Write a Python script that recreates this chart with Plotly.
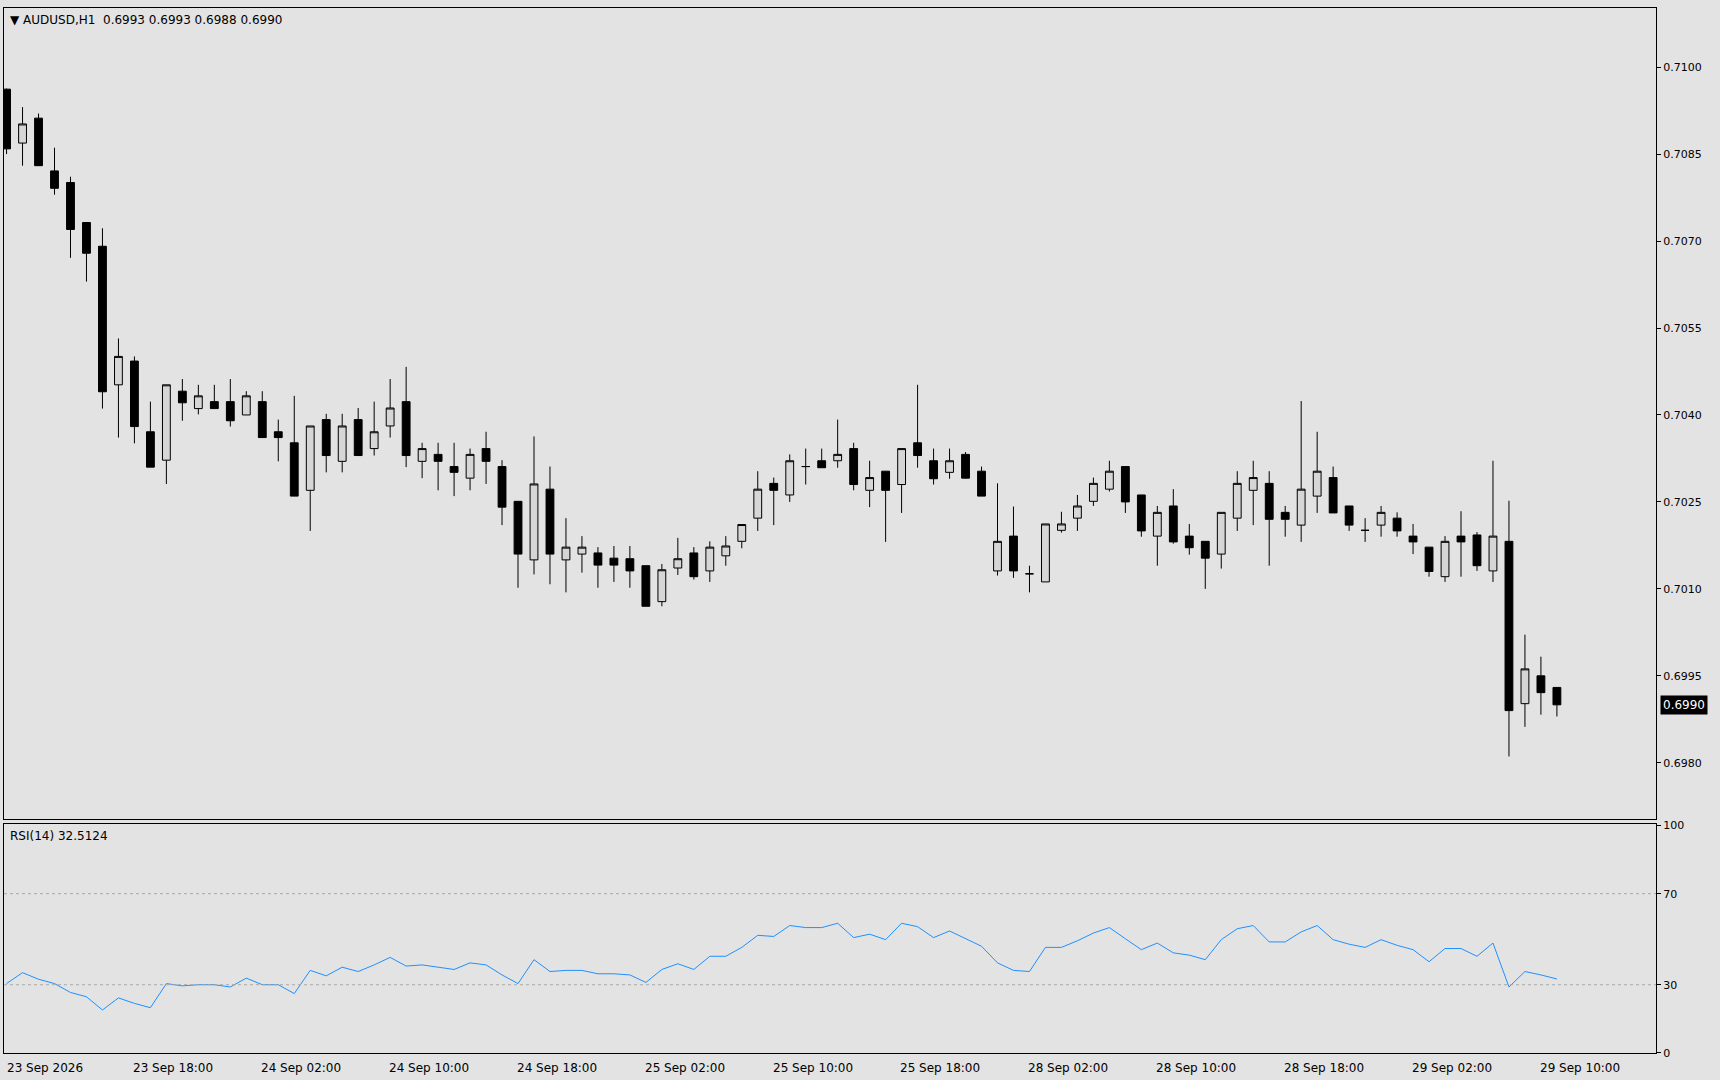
import plotly.graph_objects as go
from plotly.subplots import make_subplots

# AUDUSD H1 candles, 23 Sep 10:00 .. 29 Sep 11:00
opens = [0.70962, 0.70869, 0.70912, 0.70821, 0.70801, 0.70732, 0.70691, 0.70452, 0.70493, 0.70371,
         0.70322, 0.70441, 0.70411, 0.70423, 0.70423, 0.70400, 0.70423, 0.70371, 0.70352, 0.70270,
         0.70392, 0.70320, 0.70392, 0.70342, 0.70381, 0.70423, 0.70320, 0.70332, 0.70311, 0.70291,
         0.70342, 0.70311, 0.70251, 0.70150, 0.70272, 0.70150, 0.70160, 0.70162, 0.70153, 0.70152,
         0.70140, 0.70078, 0.70136, 0.70162, 0.70131, 0.70157, 0.70182, 0.70222, 0.70282, 0.70262,
         0.70311, 0.70321, 0.70321, 0.70342, 0.70270, 0.70303, 0.70280, 0.70352, 0.70321, 0.70301,
         0.70332, 0.70303, 0.70131, 0.70191, 0.70126, 0.70112, 0.70201, 0.70222, 0.70251, 0.70272,
         0.70311, 0.70262, 0.70191, 0.70243, 0.70191, 0.70182, 0.70160, 0.70222, 0.70270, 0.70282,
         0.70232, 0.70210, 0.70260, 0.70292, 0.70243, 0.70201, 0.70210, 0.70222, 0.70191, 0.70172,
         0.70121, 0.70191, 0.70193, 0.70131, 0.70182, 0.69902, 0.69950, 0.69930]
highs = [0.70963, 0.70931, 0.70920, 0.70861, 0.70811, 0.70732, 0.70722, 0.70532, 0.70501, 0.70423,
         0.70452, 0.70462, 0.70452, 0.70452, 0.70462, 0.70441, 0.70441, 0.70392, 0.70433, 0.70381,
         0.70402, 0.70402, 0.70412, 0.70423, 0.70462, 0.70483, 0.70352, 0.70352, 0.70352, 0.70342,
         0.70371, 0.70322, 0.70251, 0.70363, 0.70311, 0.70222, 0.70191, 0.70172, 0.70174, 0.70174,
         0.70140, 0.70143, 0.70188, 0.70172, 0.70182, 0.70191, 0.70211, 0.70303, 0.70292, 0.70332,
         0.70342, 0.70342, 0.70392, 0.70352, 0.70321, 0.70303, 0.70342, 0.70452, 0.70342, 0.70342,
         0.70336, 0.70311, 0.70282, 0.70242, 0.70140, 0.70212, 0.70233, 0.70262, 0.70292, 0.70321,
         0.70311, 0.70262, 0.70243, 0.70272, 0.70212, 0.70182, 0.70232, 0.70303, 0.70321, 0.70303,
         0.70243, 0.70424, 0.70371, 0.70311, 0.70243, 0.70222, 0.70243, 0.70232, 0.70212, 0.70172,
         0.70191, 0.70234, 0.70198, 0.70321, 0.70252, 0.70021, 0.69983, 0.69930]
lows = [0.70850, 0.70830, 0.70830, 0.70780, 0.70671, 0.70630, 0.70411, 0.70361, 0.70351, 0.70310,
        0.70281, 0.70390, 0.70401, 0.70411, 0.70380, 0.70400, 0.70361, 0.70320, 0.70260, 0.70200,
        0.70301, 0.70301, 0.70330, 0.70330, 0.70361, 0.70310, 0.70291, 0.70270, 0.70260, 0.70270,
        0.70281, 0.70210, 0.70102, 0.70125, 0.70108, 0.70094, 0.70128, 0.70102, 0.70112, 0.70102,
        0.70070, 0.70070, 0.70124, 0.70116, 0.70112, 0.70140, 0.70170, 0.70200, 0.70210, 0.70250,
        0.70280, 0.70309, 0.70309, 0.70270, 0.70241, 0.70181, 0.70231, 0.70309, 0.70280, 0.70290,
        0.70290, 0.70260, 0.70123, 0.70119, 0.70094, 0.70112, 0.70197, 0.70200, 0.70243, 0.70268,
        0.70231, 0.70190, 0.70140, 0.70178, 0.70159, 0.70100, 0.70135, 0.70200, 0.70210, 0.70140,
        0.70190, 0.70181, 0.70231, 0.70231, 0.70200, 0.70181, 0.70190, 0.70190, 0.70160, 0.70121,
        0.70112, 0.70121, 0.70131, 0.70112, 0.69811, 0.69862, 0.69883, 0.69880]
closes = [0.70859, 0.70902, 0.70830, 0.70791, 0.70720, 0.70679, 0.70440, 0.70501, 0.70380, 0.70310,
          0.70452, 0.70421, 0.70433, 0.70411, 0.70390, 0.70433, 0.70361, 0.70361, 0.70260, 0.70381,
          0.70330, 0.70381, 0.70330, 0.70371, 0.70412, 0.70330, 0.70342, 0.70320, 0.70301, 0.70332,
          0.70320, 0.70241, 0.70160, 0.70281, 0.70160, 0.70172, 0.70172, 0.70141, 0.70141, 0.70131,
          0.70070, 0.70133, 0.70152, 0.70121, 0.70172, 0.70174, 0.70211, 0.70272, 0.70270, 0.70321,
          0.70311, 0.70309, 0.70332, 0.70280, 0.70292, 0.70270, 0.70342, 0.70330, 0.70290, 0.70321,
          0.70291, 0.70260, 0.70182, 0.70131, 0.70126, 0.70212, 0.70212, 0.70243, 0.70282, 0.70303,
          0.70250, 0.70200, 0.70232, 0.70181, 0.70171, 0.70153, 0.70232, 0.70282, 0.70292, 0.70220,
          0.70220, 0.70272, 0.70303, 0.70231, 0.70210, 0.70201, 0.70232, 0.70200, 0.70181, 0.70130,
          0.70182, 0.70181, 0.70140, 0.70191, 0.69890, 0.69962, 0.69921, 0.69900]

rsi = [30.5, 35.3, 32.4, 30.5, 26.6, 24.7, 18.9, 24.2, 21.8, 19.9,
       30.5, 29.5, 30.0, 30.0, 29.0, 32.9, 30.0, 30.0, 26.1, 36.3,
       33.9, 37.7, 35.8, 38.7, 42.0, 38.2, 38.7, 37.7, 36.7, 39.6,
       38.7, 34.3, 30.5, 41.0, 35.8, 36.3, 36.3, 34.8, 34.8, 34.3,
       31.0, 36.7, 39.2, 36.7, 42.5, 42.5, 46.4, 51.7, 51.2, 56.0,
       55.1, 55.1, 57.0, 50.7, 52.2, 49.8, 57.0, 55.5, 50.7, 53.6,
       50.2, 46.9, 39.6, 36.3, 35.8, 46.4, 46.4, 49.3, 52.7, 55.1,
       50.2, 45.4, 48.3, 44.0, 43.0, 41.0, 49.8, 54.6, 56.0, 48.8,
       48.8, 53.2, 56.0, 49.8, 47.8, 46.4, 49.8, 47.3, 45.4, 40.1,
       45.9, 45.9, 42.5, 48.3, 29.0, 35.8, 34.3, 32.5124]

time_labels = ["23 Sep 2026", "23 Sep 18:00", "24 Sep 02:00", "24 Sep 10:00", "24 Sep 18:00",
               "25 Sep 02:00", "25 Sep 10:00", "25 Sep 18:00", "28 Sep 02:00", "28 Sep 10:00",
               "28 Sep 18:00", "29 Sep 02:00", "29 Sep 10:00"]
label_idx = [0, 8, 16, 24, 32, 40, 48, 56, 64, 72, 80, 88, 96]
price_ticks = [0.6980, 0.6995, 0.7010, 0.7025, 0.7040, 0.7055, 0.7070, 0.7085, 0.7100]
rsi_ticks = [0, 30, 70, 100]

idx = list(range(len(opens)))
BG = "#e3e3e3"
FONT = "DejaVu Sans"

fig = make_subplots(rows=2, cols=1, shared_xaxes=True, vertical_spacing=0.005,
                    row_heights=[0.78, 0.22])

fig.add_trace(go.Candlestick(
    x=idx, open=opens, high=highs, low=lows, close=closes,
    increasing=dict(line=dict(color="black", width=1), fillcolor="#d6d6d6"),
    decreasing=dict(line=dict(color="black", width=1), fillcolor="black"),
    whiskerwidth=0, showlegend=False, hoverinfo="skip"), row=1, col=1)

fig.add_trace(go.Scatter(x=idx, y=rsi, mode="lines",
                         line=dict(color="#1e90ff", width=1), showlegend=False,
                         hoverinfo="skip"), row=2, col=1)

for lvl in [30, 70]:
    fig.add_shape(type="line", xref="x2 domain", yref="y2", x0=0, x1=1, y0=lvl, y1=lvl,
                  line=dict(color="#a8a8a8", width=1, dash="dot"))

axis_common = dict(showgrid=False, zeroline=False, showline=True, linecolor="black",
                   mirror=True, linewidth=1)
fig.update_xaxes(range=[-0.16, 103.2], showticklabels=False, rangeslider_visible=False,
                 ticks="", **axis_common)
fig.update_yaxes(side="right", ticks="outside", ticklen=4, tickcolor="black",
                 tickfont=dict(family=FONT, size=11, color="black"), **axis_common)
fig.update_yaxes(range=[0.69703, 0.71102], tickvals=price_ticks,
                 ticktext=[f"{v:.4f}" for v in price_ticks], row=1, col=1)
fig.update_yaxes(range=[0, 100.5], tickvals=rsi_ticks, row=2, col=1)

annotations = []
for i, t in zip(label_idx, time_labels):
    annotations.append(dict(x=max(i - 0.2, -0.1), y=0, xref="x2", yref="paper", text=t,
                            showarrow=False, xanchor="left", yanchor="top", yshift=-6,
                            font=dict(family=FONT, size=12, color="black")))
annotations.append(dict(x=0, y=1, xref="paper", yref="paper", xanchor="left", yanchor="top",
                        xshift=4, yshift=-3, showarrow=False,
                        text="▼ AUDUSD,H1  0.6993 0.6993 0.6988 0.6990",
                        font=dict(family=FONT, size=12, color="black")))
annotations.append(dict(x=0, y=1, xref="x2 domain", yref="y2 domain", xanchor="left",
                        yanchor="top", xshift=4, yshift=-3, showarrow=False,
                        text="RSI(14) 32.5124",
                        font=dict(family=FONT, size=12, color="black")))
annotations.append(dict(x=1, y=closes[-1], xref="paper", yref="y", xanchor="left",
                        yanchor="middle", xshift=4, showarrow=False, text=f"{closes[-1]:.4f}",
                        bgcolor="black", borderpad=2,
                        font=dict(family=FONT, size=12, color="white")))

fig.update_layout(width=1720, height=1080, paper_bgcolor=BG, plot_bgcolor=BG,
                  margin=dict(l=3, r=64, t=3, b=27), annotations=annotations,
                  hovermode=False)

fig.write_html("out.html", config={"displayModeBar": False},
               post_script="document.body.style.margin='0';document.body.style.background='%s';" % BG)
